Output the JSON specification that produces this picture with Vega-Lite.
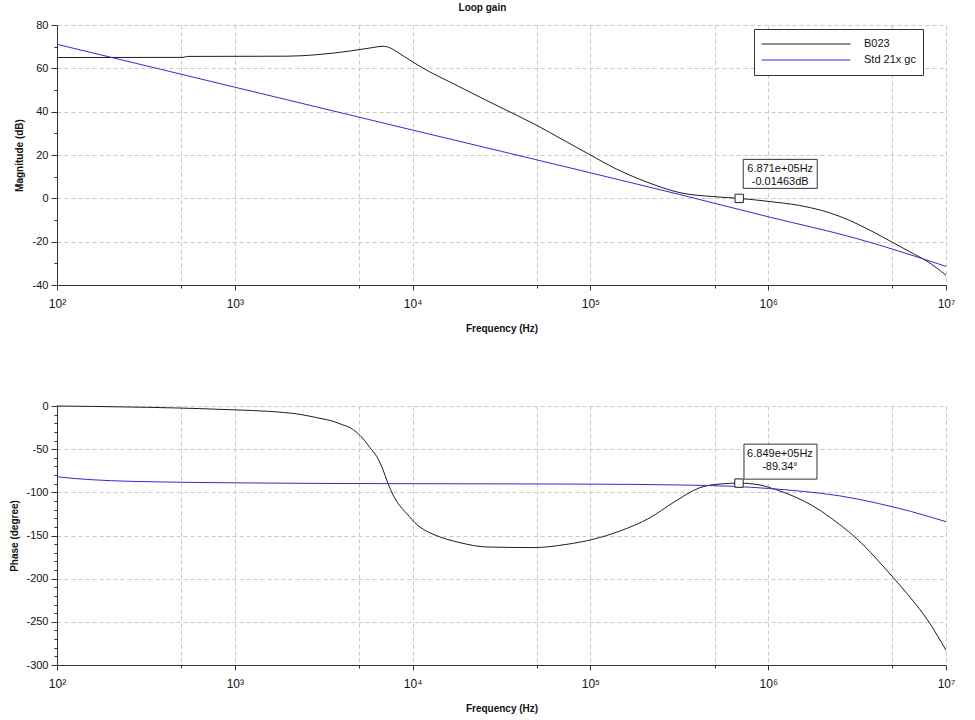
{
  "$schema": "https://vega.github.io/schema/vega-lite/v6.json",
  "background": "white",
  "padding": {"left": 9, "top": 3, "right": 5, "bottom": 5},
  "title": {"text": "Loop gain", "fontSize": 10, "fontWeight": "bold", "font": "Liberation Sans", "anchor": "middle", "color": "#111", "offset": 6},
  "spacing": 67,
  "datasets": {
    "mag": [
      {"f": 100, "v": 65, "s": "B023"},
      {"f": 512, "v": 65.05, "s": "B023"},
      {"f": 540, "v": 65.5, "s": "B023"},
      {"f": 1968, "v": 65.6, "s": "B023"},
      {"f": 2897, "v": 66.3, "s": "B023"},
      {"f": 4446, "v": 68, "s": "B023"},
      {"f": 5984, "v": 69.6, "s": "B023"},
      {"f": 6817, "v": 70.2, "s": "B023"},
      {"f": 7500, "v": 69.4, "s": "B023"},
      {"f": 8166, "v": 67.6, "s": "B023"},
      {"f": 10040, "v": 62.9, "s": "B023"},
      {"f": 12530, "v": 58.3, "s": "B023"},
      {"f": 16220, "v": 53.7, "s": "B023"},
      {"f": 23930, "v": 46.7, "s": "B023"},
      {"f": 31030, "v": 42.1, "s": "B023"},
      {"f": 47530, "v": 34.6, "s": "B023"},
      {"f": 73790, "v": 26, "s": "B023"},
      {"f": 100000, "v": 20, "s": "B023"},
      {"f": 134000, "v": 14.3, "s": "B023"},
      {"f": 208000, "v": 7.5, "s": "B023"},
      {"f": 319000, "v": 2.6, "s": "B023"},
      {"f": 490000, "v": 0.8, "s": "B023"},
      {"f": 687100, "v": -0.015, "s": "B023"},
      {"f": 1000000, "v": -1.4, "s": "B023"},
      {"f": 1500000, "v": -3.3, "s": "B023"},
      {"f": 2000000, "v": -5.6, "s": "B023"},
      {"f": 2500000, "v": -8.2, "s": "B023"},
      {"f": 3000000, "v": -10.9, "s": "B023"},
      {"f": 4000000, "v": -16, "s": "B023"},
      {"f": 5000000, "v": -20.3, "s": "B023"},
      {"f": 6500000, "v": -25.4, "s": "B023"},
      {"f": 7816000, "v": -29, "s": "B023"},
      {"f": 10000000, "v": -35.5, "s": "B023"},
      {"f": 100, "v": 71.1, "s": "Std 21x gc"},
      {"f": 1000, "v": 51.3, "s": "Std 21x gc"},
      {"f": 10000, "v": 31.5, "s": "Std 21x gc"},
      {"f": 100000, "v": 11.8, "s": "Std 21x gc"},
      {"f": 316200, "v": 1.8, "s": "Std 21x gc"},
      {"f": 1000000, "v": -8.5, "s": "Std 21x gc"},
      {"f": 3162000, "v": -18.6, "s": "Std 21x gc"},
      {"f": 10000000, "v": -31.4, "s": "Std 21x gc"}
    ],
    "phase": [
      {"f": 100, "v": 0, "s": "B023"},
      {"f": 158, "v": -0.5, "s": "B023"},
      {"f": 316, "v": -1.5, "s": "B023"},
      {"f": 631, "v": -3, "s": "B023"},
      {"f": 1000, "v": -4.5, "s": "B023"},
      {"f": 1585, "v": -6.3, "s": "B023"},
      {"f": 2328, "v": -9.7, "s": "B023"},
      {"f": 3013, "v": -14.3, "s": "B023"},
      {"f": 3565, "v": -17.6, "s": "B023"},
      {"f": 4064, "v": -22, "s": "B023"},
      {"f": 4446, "v": -25, "s": "B023"},
      {"f": 4742, "v": -29, "s": "B023"},
      {"f": 5058, "v": -34, "s": "B023"},
      {"f": 5395, "v": -40.5, "s": "B023"},
      {"f": 5754, "v": -48.3, "s": "B023"},
      {"f": 6310, "v": -59, "s": "B023"},
      {"f": 6823, "v": -74, "s": "B023"},
      {"f": 7278, "v": -90, "s": "B023"},
      {"f": 7763, "v": -103, "s": "B023"},
      {"f": 8166, "v": -111, "s": "B023"},
      {"f": 8713, "v": -118.5, "s": "B023"},
      {"f": 9311, "v": -125, "s": "B023"},
      {"f": 10590, "v": -137.5, "s": "B023"},
      {"f": 11750, "v": -144, "s": "B023"},
      {"f": 13030, "v": -148.5, "s": "B023"},
      {"f": 18490, "v": -158.3, "s": "B023"},
      {"f": 26180, "v": -163.3, "s": "B023"},
      {"f": 47530, "v": -164, "s": "B023"},
      {"f": 73790, "v": -160.2, "s": "B023"},
      {"f": 103500, "v": -154.4, "s": "B023"},
      {"f": 146600, "v": -144.8, "s": "B023"},
      {"f": 216300, "v": -129.4, "s": "B023"},
      {"f": 291700, "v": -112, "s": "B023"},
      {"f": 413000, "v": -94.6, "s": "B023"},
      {"f": 535800, "v": -90.3, "s": "B023"},
      {"f": 684900, "v": -89.34, "s": "B023"},
      {"f": 899500, "v": -91.5, "s": "B023"},
      {"f": 1000000, "v": -94, "s": "B023"},
      {"f": 1259000, "v": -101, "s": "B023"},
      {"f": 1585000, "v": -110, "s": "B023"},
      {"f": 1995000, "v": -122, "s": "B023"},
      {"f": 2512000, "v": -137, "s": "B023"},
      {"f": 3162000, "v": -154, "s": "B023"},
      {"f": 3981000, "v": -175, "s": "B023"},
      {"f": 5012000, "v": -198, "s": "B023"},
      {"f": 6310000, "v": -222, "s": "B023"},
      {"f": 7943000, "v": -249, "s": "B023"},
      {"f": 10000000, "v": -283, "s": "B023"},
      {"f": 100, "v": -82, "s": "Std 21x gc"},
      {"f": 126, "v": -84, "s": "Std 21x gc"},
      {"f": 200, "v": -86.5, "s": "Std 21x gc"},
      {"f": 398, "v": -88, "s": "Std 21x gc"},
      {"f": 1000, "v": -89, "s": "Std 21x gc"},
      {"f": 3162, "v": -89.7, "s": "Std 21x gc"},
      {"f": 10000, "v": -90, "s": "Std 21x gc"},
      {"f": 100000, "v": -90.5, "s": "Std 21x gc"},
      {"f": 316200, "v": -91.5, "s": "Std 21x gc"},
      {"f": 631000, "v": -93, "s": "Std 21x gc"},
      {"f": 1000000, "v": -95.5, "s": "Std 21x gc"},
      {"f": 1585000, "v": -99, "s": "Std 21x gc"},
      {"f": 2512000, "v": -104, "s": "Std 21x gc"},
      {"f": 3981000, "v": -112, "s": "Std 21x gc"},
      {"f": 6310000, "v": -122, "s": "Std 21x gc"},
      {"f": 10000000, "v": -134, "s": "Std 21x gc"}
    ],
    "tipMag": [{"f": 687100, "v": -0.01463, "label": "6.871e+05Hz\n-0.01463dB"}],
    "tipPhase": [{"f": 684900, "v": -89.34, "label": "6.849e+05Hz\n-89.34°"}]
  },
  "vconcat": [
    {
      "width": 889,
      "height": 260,
      "layer": [
        {
          "data": {"name": "mag"},
          "mark": {"type": "line", "strokeWidth": 1, "interpolate": "monotone"},
          "encoding": {
            "x": {"field": "f", "type": "quantitative",
              "scale": {"type": "log", "domain": [100, 10000000], "nice": false},
              "axis": {
                "title": "Frequency (Hz)",
                "values": [100, 500, 1000, 5000, 10000, 50000, 100000, 500000, 1000000, 5000000, 10000000],
                "tickCount": 100,
                "labelExpr": "indexof([100,1000,10000,100000,1000000,10000000], datum.value) >= 0 ? '10' + ['²','³','⁴','⁵','⁶','⁷'][indexof([100,1000,10000,100000,1000000,10000000], datum.value)] : ''",
                "tickSize": {"condition": {"test": "indexof([100,1000,10000,100000,1000000,10000000], datum.value) < 0", "value": 3}, "value": 5},
                "labelPadding": 8, "titlePadding": 14, "labelFlush": false, "labelOverlap": false, "labelFontSize": 12
              }},
            "y": {"field": "v", "type": "quantitative",
              "scale": {"domain": [-40, 80], "nice": false, "zero": false},
              "axis": {
                "title": "Magnitude (dB)",
                "values": [-40, -30, -20, -10, 0, 10, 20, 30, 40, 50, 60, 70, 80],
                "tickCount": 100,
                "labelExpr": "datum.value % 20 === 0 ? '' + datum.value : ''",
                "gridOpacity": {"condition": {"test": "datum.value % 20 !== 0", "value": 0}, "value": 1},
                "tickSize": {"condition": {"test": "datum.value % 20 !== 0", "value": 3}, "value": 6},
                "labelPadding": 3, "titlePadding": 8
              }},
            "color": {"field": "s", "type": "nominal",
              "scale": {"domain": ["B023", "Std 21x gc"], "range": ["#1e1e1e", "#2d2dd8"]},
              "legend": {"title": null, "orient": "none", "legendX": 697, "legendY": 4,
                "symbolType": "stroke", "symbolSize": 7900, "symbolStrokeWidth": 1, "clipHeight": 16,
                "labelOffset": 13, "labelFontSize": 11, "labelFont": "Liberation Sans", "labelColor": "#111",
                "strokeColor": "#333", "fillColor": "white", "padding": 7, "rowPadding": 0}
            }
          }
        },
        {
          "data": {"name": "tipMag"},
          "mark": {"type": "point", "shape": "M0.04,-0.39H0.78V-0.10H0.04Z", "size": 40000, "filled": true, "fill": "white", "stroke": "#333", "strokeWidth": 1, "opacity": 1},
          "encoding": {"x": {"field": "f", "type": "quantitative"}, "y": {"field": "v", "type": "quantitative"}}
        },
        {
          "data": {"name": "tipMag"},
          "mark": {"type": "text", "lineBreak": "\n", "dx": 41, "dy": -29, "fontSize": 11, "font": "Liberation Sans", "color": "#111", "align": "center", "baseline": "middle", "lineHeight": 13},
          "encoding": {"x": {"field": "f", "type": "quantitative"}, "y": {"field": "v", "type": "quantitative"}, "text": {"field": "label"}}
        },
        {
          "data": {"name": "tipMag"},
          "mark": {"type": "point", "shape": "square", "size": 70, "filled": true, "fill": "white", "stroke": "#222", "strokeWidth": 1, "opacity": 1},
          "encoding": {"x": {"field": "f", "type": "quantitative"}, "y": {"field": "v", "type": "quantitative"}}
        }
      ]
    },
    {
      "width": 889,
      "height": 259,
      "layer": [
        {
          "data": {"name": "phase"},
          "mark": {"type": "line", "strokeWidth": 1, "interpolate": "monotone"},
          "encoding": {
            "x": {"field": "f", "type": "quantitative",
              "scale": {"type": "log", "domain": [100, 10000000], "nice": false},
              "axis": {
                "title": "Frequency (Hz)",
                "values": [100, 500, 1000, 5000, 10000, 50000, 100000, 500000, 1000000, 5000000, 10000000],
                "tickCount": 100,
                "labelExpr": "indexof([100,1000,10000,100000,1000000,10000000], datum.value) >= 0 ? '10' + ['²','³','⁴','⁵','⁶','⁷'][indexof([100,1000,10000,100000,1000000,10000000], datum.value)] : ''",
                "tickSize": {"condition": {"test": "indexof([100,1000,10000,100000,1000000,10000000], datum.value) < 0", "value": 3}, "value": 5},
                "labelPadding": 8, "titlePadding": 14, "labelFlush": false, "labelOverlap": false, "labelFontSize": 12
              }},
            "y": {"field": "v", "type": "quantitative",
              "scale": {"domain": [-300, 0], "nice": false, "zero": false},
              "axis": {
                "title": "Phase (degree)",
                "values": [-300, -290, -280, -270, -260, -250, -240, -230, -220, -210, -200, -190, -180, -170, -160, -150, -140, -130, -120, -110, -100, -90, -80, -70, -60, -50, -40, -30, -20, -10, 0],
                "tickCount": 100,
                "labelExpr": "datum.value % 50 === 0 ? '' + datum.value : ''",
                "gridOpacity": {"condition": {"test": "datum.value % 50 !== 0", "value": 0}, "value": 1},
                "tickSize": {"condition": {"test": "datum.value % 50 !== 0", "value": 3}, "value": 6},
                "labelPadding": 3, "titlePadding": 6
              }},
            "color": {"field": "s", "type": "nominal",
              "scale": {"domain": ["B023", "Std 21x gc"], "range": ["#1e1e1e", "#2d2dd8"]},
              "legend": null
            }
          }
        },
        {
          "data": {"name": "tipPhase"},
          "mark": {"type": "point", "shape": "M0.05,-0.39H0.78V-0.04H0.05Z", "size": 40000, "filled": true, "fill": "white", "stroke": "#333", "strokeWidth": 1, "opacity": 1},
          "encoding": {"x": {"field": "f", "type": "quantitative"}, "y": {"field": "v", "type": "quantitative"}}
        },
        {
          "data": {"name": "tipPhase"},
          "mark": {"type": "text", "lineBreak": "\n", "dx": 41, "dy": -29, "fontSize": 11, "font": "Liberation Sans", "color": "#111", "align": "center", "baseline": "middle", "lineHeight": 13},
          "encoding": {"x": {"field": "f", "type": "quantitative"}, "y": {"field": "v", "type": "quantitative"}, "text": {"field": "label"}}
        },
        {
          "data": {"name": "tipPhase"},
          "mark": {"type": "point", "shape": "square", "size": 70, "filled": true, "fill": "white", "stroke": "#222", "strokeWidth": 1, "opacity": 1},
          "encoding": {"x": {"field": "f", "type": "quantitative"}, "y": {"field": "v", "type": "quantitative"}}
        }
      ]
    }
  ],
  "resolve": {"scale": {"color": "independent"}, "legend": {"color": "independent"}},
  "config": {
    "view": {"stroke": null},
    "axis": {
      "labelFont": "Liberation Sans", "labelFontSize": 11, "labelColor": "#111",
      "titleFont": "Liberation Sans", "titleFontSize": 10, "titleFontWeight": "bold", "titleColor": "#111",
      "domainColor": "#333", "tickColor": "#333", "grid": true,
      "gridColor": "#c8c8c8", "gridDash": [4, 3], "gridWidth": 1
    }
  }
}
